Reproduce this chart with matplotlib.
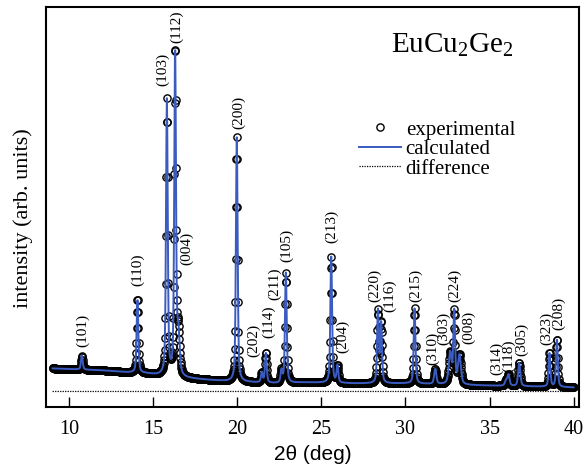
import numpy as np
import matplotlib.pyplot as plt

plt.rcParams['font.family'] = ['Liberation Serif', 'DejaVu Serif']
plt.rcParams['mathtext.fontset'] = 'custom'
plt.rcParams['mathtext.rm'] = 'Liberation Serif'
plt.rcParams['mathtext.it'] = 'Liberation Serif:italic'

# reflections: position (deg), net height, width (deg)
hkl = ["(101)", "(110)", "(103)", "(112)", "(004)", "(200)", "(202)", "(114)",
       "(211)", "(105)", "(213)", "(204)", "(220)", "(116)", "(215)", "(310)",
       "(303)", "(224)", "(008)", "(314)", "(118)", "(305)", "(323)", "(208)"]
peak_pos = [10.74, 14.05, 15.80, 16.29, 16.48, 19.96, 21.45, 21.69,
            22.62, 22.88, 25.58, 25.95, 28.36, 28.55, 30.54, 31.77,
            32.66, 32.90, 33.21, 35.98, 36.13, 36.77, 38.57, 39.01]
peak_amp = [14, 74, 275, 327, 40, 244, 10, 30,
            12, 110, 126, 17, 72, 60, 75, 15,
            31, 72, 29, 5, 11, 23, 34, 48]
peak_fwhm = [0.12, 0.12, 0.12, 0.12, 0.18, 0.12, 0.12, 0.12,
             0.12, 0.12, 0.12, 0.12, 0.12, 0.12, 0.12, 0.15,
             0.2, 0.12, 0.2, 0.15, 0.15, 0.15, 0.12, 0.12]

# where each (hkl) label sits: centre in 2theta, bottom in intensity
label_x = [10.78, 14.05, 15.56, 16.39, 16.99, 20.06, 20.95, 21.85,
           22.24, 22.94, 25.62, 26.27, 28.14, 29.05, 30.58, 31.63,
           32.27, 32.90, 33.75, 35.40, 36.13, 36.93, 38.42, 39.11]
label_y = [60, 121, 321, 364, 142, 278, 50, 69,
           107, 145, 164, 54, 105, 95, 105, 42,
           62, 105, 63, 32, 35, 51, 62, 77]

# background level read at a few angles
bg_x = [9, 12, 13.5, 14.5, 15.3, 17, 19.5, 21, 22.3, 24, 27, 30, 34.5, 37.5, 40]
bg_y = [39, 37, 35, 34, 32, 29, 26, 25, 24, 25, 24, 24, 22, 21, 20]

diff_offset = 16
step = 0.02

two_theta = np.arange(9.0, 40.0 + step / 2, step)


def pseudo_voigt(x, x0, amp, w, eta=0.5):
    lor = 1.0 / (1.0 + (2 * (x - x0) / w) ** 2)
    gau = np.exp(-4 * np.log(2) * ((x - x0) / w) ** 2)
    return amp * (eta * lor + (1 - eta) * gau)


calc = np.interp(two_theta, bg_x, bg_y)
for p, a, w in zip(peak_pos, peak_amp, peak_fwhm):
    calc = calc + pseudo_voigt(two_theta, p, a, w)
expt = calc.copy()
diff = expt - calc + diff_offset

fig = plt.figure(figsize=(5.83, 4.70), dpi=100)
ax = fig.add_axes([0.079, 0.133, 0.914, 0.852])

ax.plot(two_theta, expt, 'o', mfc='none', mec='black', ms=5.2, mew=1.0,
        label='experimental')
ax.plot(two_theta, calc, '-', color='#3a5bbf', lw=1.4, label='calculated')
ax.plot(two_theta, diff, color='black', lw=0.9, ls=(0, (1, 1)),
        label='difference')

for lab, lx, ly in zip(hkl, label_x, label_y):
    ax.text(lx, ly, lab, rotation=90, ha='center', va='bottom', fontsize=11)

ax.text(0.762, 0.885, r'EuCu$_\mathrm{2}$Ge$_\mathrm{2}$', transform=ax.transAxes,
        ha='center', va='baseline', fontsize=21)

ax.legend(loc='upper left', bbox_to_anchor=(0.587, 0.718), frameon=False,
          fontsize=15, handlelength=2.0, handletextpad=0.25, labelspacing=0,
          borderpad=0, borderaxespad=0, numpoints=1)

ax.set_xlim(8.61, 40.32)
ax.set_ylim(0, 400)
ax.set_xticks([10, 15, 20, 25, 30, 35, 40])
ax.set_yticks([])
ax.tick_params(axis='x', direction='in', length=7.2, width=1, pad=9,
               labelsize=14.5, top=False)
for s in ax.spines.values():
    s.set_linewidth(1.5)

ax.set_xlabel('2θ (deg)', fontsize=15, family='Liberation Sans', labelpad=4)
ax.set_ylabel('intensity (arb. units)', fontsize=16)
ax.yaxis.set_label_coords(-0.025, 0.472)

fig.savefig('out.png', dpi=100)
